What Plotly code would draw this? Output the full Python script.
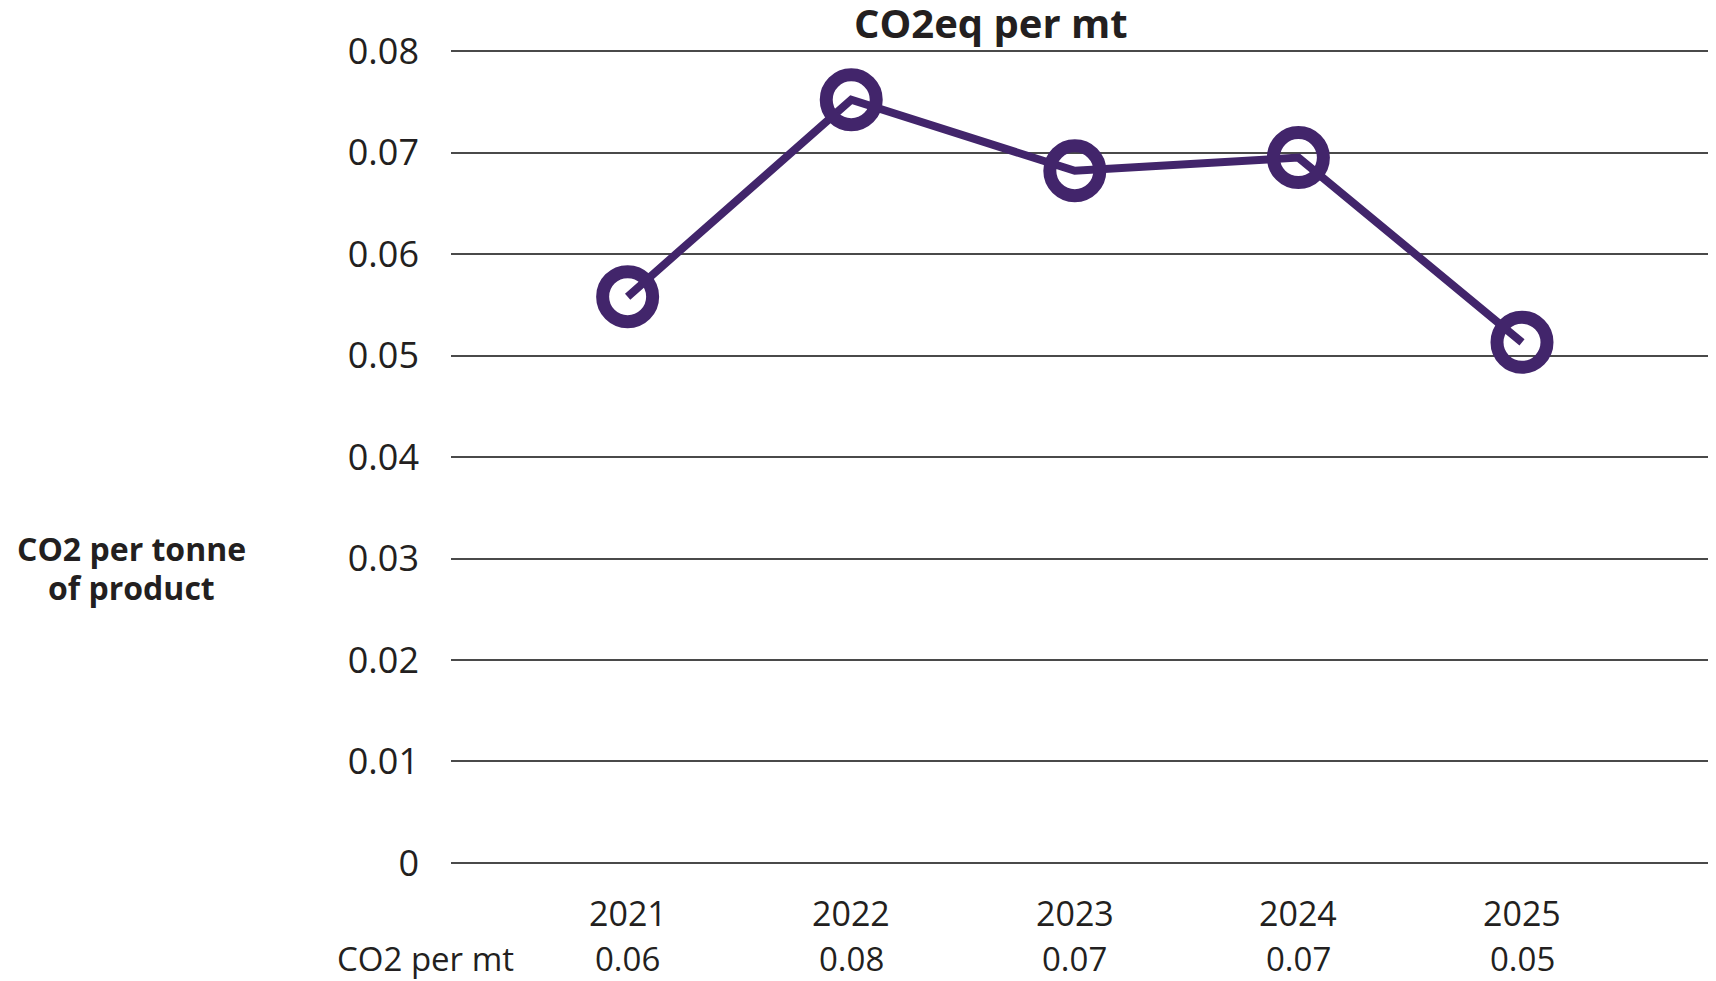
import plotly.graph_objects as go

years = ["2021", "2022", "2023", "2024", "2025"]
co2_per_mt = [0.0558, 0.0752, 0.0682, 0.0695, 0.0513]
y_ticks = [0, 0.01, 0.02, 0.03, 0.04, 0.05, 0.06, 0.07, 0.08]
y_tick_labels = ["0", "0.01", "0.02", "0.03", "0.04", "0.05", "0.06", "0.07", "0.08"]
row_label = "CO2 per mt"
title_text = "CO2eq per mt"
y_title_lines = ["CO2 per tonne", "of product"]

purple = "#42256B"
text_color = "#231F20"
font_family = "Open Sans, Noto Sans, sans-serif"

L, R, T, B = 443, 3, 42, 125
plot_w = 1716 - L - R
plot_h = 981 - T - B


def px_to_paper_y(py):
    return (981 - B - py) / plot_h


def px_to_paper_x(px):
    return (px - L) / plot_w


fig = go.Figure()
fig.add_trace(go.Scatter(
    x=years, y=co2_per_mt, mode="lines+markers",
    line=dict(color=purple, width=8),
    marker=dict(symbol="circle-open", size=50, line=dict(color=purple, width=13), color=purple),
    cliponaxis=False, showlegend=False, hoverinfo="x+y",
))

annotations = []
for i, (yr, v) in enumerate(zip(years, co2_per_mt)):
    annotations.append(dict(x=i, xref="x", y=px_to_paper_y(905), yref="paper", text=yr,
                            showarrow=False, yanchor="middle", xanchor="center",
                            font=dict(size=34, color=text_color, family=font_family)))
    annotations.append(dict(x=i, xref="x", y=px_to_paper_y(950), yref="paper", text=f"{v:.2f}",
                            showarrow=False, yanchor="middle", xanchor="center",
                            font=dict(size=33, color=text_color, family=font_family)))
annotations.append(dict(x=px_to_paper_x(417), xref="paper", y=px_to_paper_y(950), yref="paper",
                        text=row_label, showarrow=False, yanchor="middle", xanchor="center",
                        font=dict(size=33, color=text_color, family=font_family)))
for line_text, py in zip(y_title_lines, [540, 579]):
    annotations.append(dict(x=px_to_paper_x(123), xref="paper", y=px_to_paper_y(py), yref="paper",
                            text=line_text, showarrow=False, yanchor="middle", xanchor="center",
                            font=dict(size=32, color=text_color, family=font_family, weight="bold")))
annotations.append(dict(x=px_to_paper_x(983), xref="paper", y=px_to_paper_y(15), yref="paper",
                        text=title_text, showarrow=False, yanchor="middle", xanchor="center",
                        font=dict(size=40, color=text_color, family=font_family, weight="bold")))

fig.update_layout(
    width=1716, height=981,
    margin=dict(l=L, r=R, t=T, b=B),
    paper_bgcolor="white", plot_bgcolor="white",
    xaxis=dict(type="category", range=[-0.79, 4.89], showgrid=False, zeroline=False,
               showticklabels=False, showline=False, ticks=""),
    yaxis=dict(range=[-0.0001, 0.0801], tickvals=y_ticks, ticktext=y_tick_labels,
               showgrid=True, gridcolor="#4a4a4a", gridwidth=1.5, zeroline=False,
               showline=False, ticks="", ticklabelstandoff=31,
               tickfont=dict(size=36, color=text_color, family=font_family)),
    annotations=annotations,
    font=dict(family=font_family, color=text_color),
)

fig.write_html("out.html")
